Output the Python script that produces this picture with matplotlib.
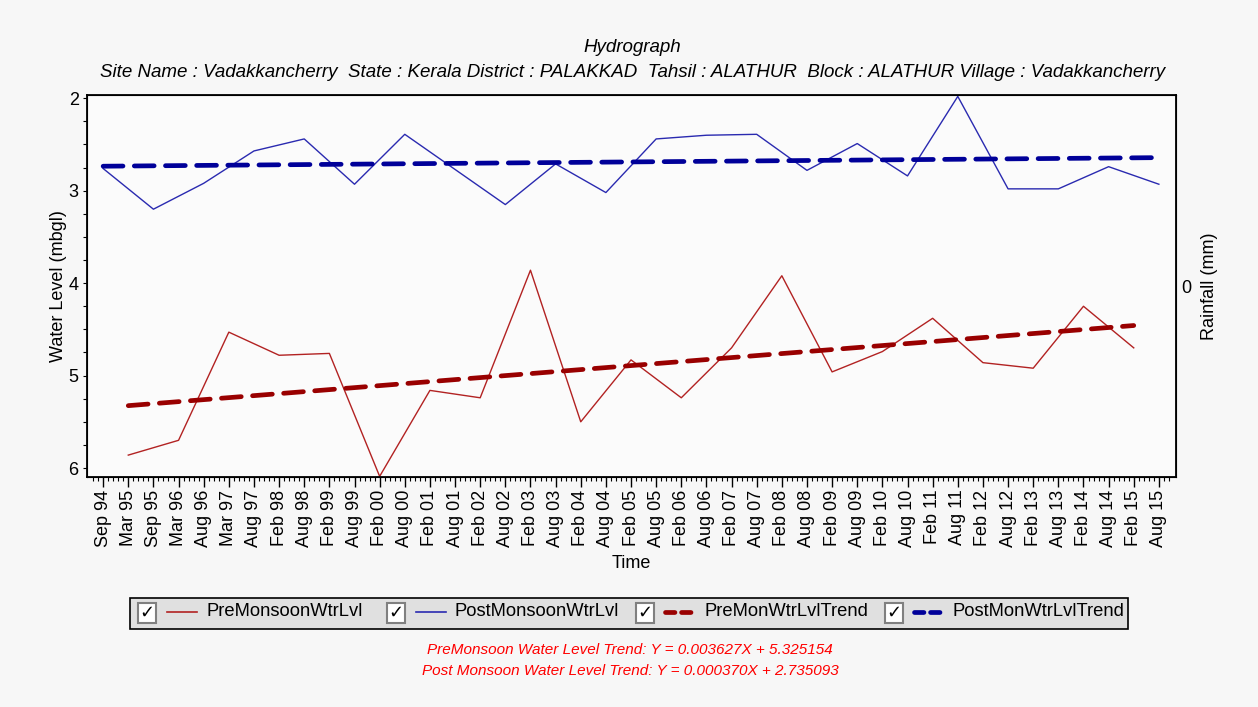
import numpy as np
import pandas as pd
import matplotlib
matplotlib.use("Agg")
import matplotlib.pyplot as plt
from matplotlib.lines import Line2D
from matplotlib.patches import Rectangle

plt.rcParams['font.family'] = ['Liberation Sans', 'DejaVu Sans']

# Sampling dates shown on the time axis
dates = ["Sep 94", "Mar 95", "Sep 95", "Mar 96", "Aug 96", "Mar 97", "Aug 97",
         "Feb 98", "Aug 98", "Feb 99", "Aug 99", "Feb 00", "Aug 00", "Feb 01",
         "Aug 01", "Feb 02", "Aug 02", "Feb 03", "Aug 03", "Feb 04", "Aug 04",
         "Feb 05", "Aug 05", "Feb 06", "Aug 06", "Feb 07", "Aug 07", "Feb 08",
         "Aug 08", "Feb 09", "Aug 09", "Feb 10", "Aug 10", "Feb 11", "Aug 11",
         "Feb 12", "Aug 12", "Feb 13", "Aug 13", "Feb 14", "Aug 14", "Feb 15",
         "Aug 15"]

# pre-monsoon readings (Mar/Feb), water level in mbgl
pre_dates = ["Mar 95", "Mar 96", "Mar 97", "Feb 98", "Feb 99", "Feb 00", "Feb 01",
             "Feb 02", "Feb 03", "Feb 04", "Feb 05", "Feb 06", "Feb 07", "Feb 08",
             "Feb 09", "Feb 10", "Feb 11", "Feb 12", "Feb 13", "Feb 14", "Feb 15"]
pre_level = [5.86, 5.70, 4.53, 4.78, 4.76, 6.09, 5.16, 5.24, 3.86, 5.50, 4.83,
             5.24, 4.70, 3.92, 4.96, 4.74, 4.38, 4.86, 4.92, 4.25, 4.70]

# post-monsoon readings (Sep/Aug)
post_dates = ["Sep 94", "Sep 95", "Aug 96", "Aug 97", "Aug 98", "Aug 99", "Aug 00",
              "Aug 01", "Aug 02", "Aug 03", "Aug 04", "Aug 05", "Aug 06", "Aug 07",
              "Aug 08", "Aug 09", "Aug 10", "Aug 11", "Aug 12", "Aug 13", "Aug 14",
              "Aug 15"]
post_level = [2.76, 3.20, 2.92, 2.57, 2.44, 2.93, 2.39, 2.77, 3.15, 2.71, 3.02,
              2.44, 2.40, 2.39, 2.78, 2.49, 2.84, 1.98, 2.98, 2.98, 2.74, 2.93]

# linear trends, X in months from the first reading
pre_slope, pre_icpt = 0.003627, 5.325154
post_slope, post_icpt = 0.000370, 2.735093

RED = '#b22222'
BLUE = '#2a2ab0'
DRED = '#990000'
DBLUE = '#000099'
FS = 13


def months_between(a, b):
    da = pd.to_datetime(a, format='%b %y')
    db = pd.to_datetime(b, format='%b %y')
    return (db.year - da.year) * 12 + (db.month - da.month)


def trend_points(dlist, slope, icpt):
    # level falls (shallower) with time on this well
    m = months_between(dlist[0], dlist[-1])
    return [icpt, icpt - slope * m]


pos = {d: i for i, d in enumerate(dates)}
pre_x = [pos[d] for d in pre_dates]
post_x = [pos[d] for d in post_dates]

fig = plt.figure(figsize=(12.58, 7.07), dpi=100, facecolor='#f7f7f7')
ax = fig.add_axes([0.0692, 0.3253, 0.8656, 0.5403])
ax.set_facecolor('#fbfbfb')

ax.plot(pre_x, pre_level, color=RED, lw=1.0)
ax.plot(post_x, post_level, color=BLUE, lw=1.0)

dash = dict(lw=3.4, dashes=(4.2, 2.4), dash_capstyle='round')
ax.plot([pre_x[0], pre_x[-1]], trend_points(pre_dates, pre_slope, pre_icpt),
        color=DRED, **dash)
ax.plot([post_x[0], post_x[-1]], trend_points(post_dates, post_slope, post_icpt),
        color=DBLUE, **dash)

ax.set_xlim(-0.64, 42.68)
ax.set_ylim(6.097, 1.965)

ax.set_xticks(range(len(dates)))
ax.set_xticklabels(dates, rotation=90, fontsize=FS)
ax.set_xticks(np.arange(-0.4, 42.6, 0.2), minor=True)
ax.set_yticks([2, 3, 4, 5, 6])
ax.set_yticks(np.arange(2, 6.01, 0.25), minor=True)
ax.tick_params(axis='x', which='major', length=7, width=1, pad=2)
ax.tick_params(axis='x', which='minor', length=3, width=0.8)
ax.tick_params(axis='y', which='both', length=3, width=0.8, labelsize=FS, pad=3)
for s in ax.spines.values():
    s.set_linewidth(1.3)

ax.set_xlabel("Time", fontsize=FS, labelpad=6)
ax.set_ylabel("Water Level (mbgl)", fontsize=FS, labelpad=1.5)

# empty rainfall axis on the right
rax = ax.twinx()
rax.set_ylim(-1, 1)
rax.set_yticks([0])
rax.tick_params(axis='y', length=0, labelsize=FS, pad=4)
rax.set_ylabel("Rainfall (mm)", fontsize=FS, labelpad=7)

fig.text(0.5025, 0.933, "Hydrograph", ha='center', va='center', style='italic', fontsize=13.5)
fig.text(0.5025, 0.898,
         "Site Name : Vadakkancherry  State : Kerala District : PALAKKAD  Tahsil : ALATHUR  "
         "Block : ALATHUR Village : Vadakkancherry",
         ha='center', va='center', style='italic', fontsize=13.5)

# legend strip with check boxes
W, H = 1258.0, 707.0


def px(x, y):
    return x / W, 1 - y / H


bx, by = px(130, 629)
fig.patches.append(Rectangle((bx, by), 998 / W, 31 / H, transform=fig.transFigure,
                             facecolor='#e0e0e0', edgecolor='black', lw=1.2))
items = [("PreMonsoonWtrLvl", RED, 1.2, None, 138),
         ("PostMonsoonWtrLvl", BLUE, 1.2, None, 387),
         ("PreMonWtrLvlTrend", DRED, 3.4, (2.0, 1.4), 636),
         ("PostMonWtrLvlTrend", DBLUE, 3.4, (2.0, 1.4), 885)]
for label, col, lw, ds, x0 in items:
    cx, cy = px(x0, 623)
    fig.patches.append(Rectangle((cx, cy), 18 / W, 20 / H, transform=fig.transFigure,
                                 facecolor='white', edgecolor='#808080', lw=1.5))
    tx, ty = px(x0 + 9, 613)
    fig.text(tx, ty, "\u2713", ha='center', va='center', fontsize=13,
             fontweight='bold', family='DejaVu Sans')
    lx0, ly = px(x0 + 29, 612)
    lx1, _ = px(x0 + 59, 612)
    ln = Line2D([lx0, lx1], [ly, ly], transform=fig.transFigure, color=col, lw=lw)
    if ds:
        ln.set_dashes(ds)
        ln.set_dash_capstyle('round')
    fig.lines.append(ln)
    tx, ty = px(x0 + 68, 612)
    fig.text(tx, ty, label, ha='left', va='center', fontsize=13.2)

fig.text(0.5008, 1 - 650 / H, "PreMonsoon Water Level Trend: Y = 0.003627X + 5.325154",
         ha='center', va='center', color='#ff0000', style='italic', fontsize=11)
fig.text(0.5008, 1 - 671 / H, "Post Monsoon Water Level Trend: Y = 0.000370X + 2.735093",
         ha='center', va='center', color='#ff0000', style='italic', fontsize=11)

fig.savefig("out.png", dpi=100, facecolor=fig.get_facecolor())
